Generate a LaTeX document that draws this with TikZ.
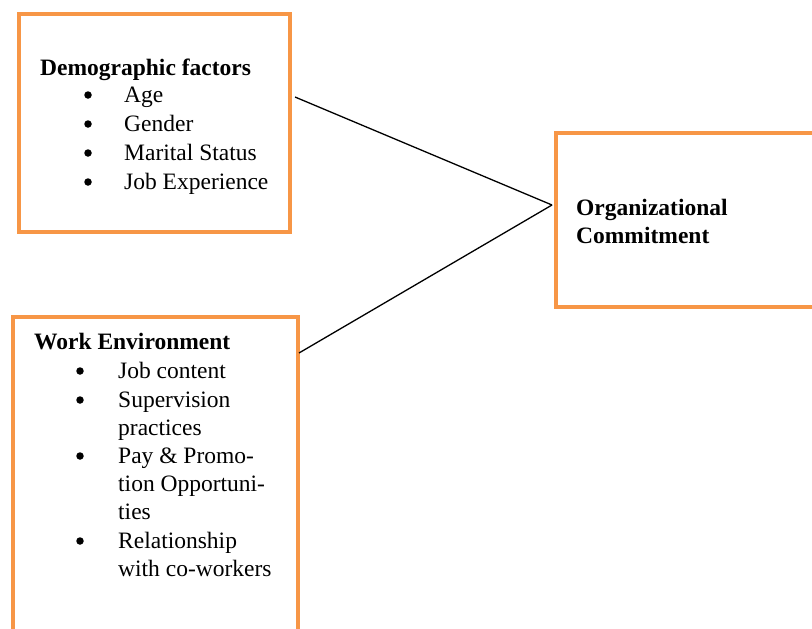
\documentclass[tikz,border=0pt]{standalone}
\usepackage{fontspec}
\setmainfont{Liberation Serif}
\definecolor{boxorange}{RGB}{247,150,70}
\tikzset{
  box/.style={draw=boxorange, line width=4pt, inner sep=0pt},
  txt/.style={anchor=base west, inner sep=0pt, font=\fontsize{23.5}{29}\selectfont},
  head/.style={txt, font=\fontsize{23.5}{29}\selectfont\bfseries},
  dot/.style={circle, fill=black, inner sep=0pt, minimum size=7.5pt}
}
\begin{document}
\begin{tikzpicture}[x=1pt,y=-1pt]
\clip (0,0) rectangle (812,629);
\fill[white] (0,0) rectangle (812,629);

% the three boxes
\node[box, minimum width=271pt, minimum height=218pt] (demo) at (154.5,123) {};
\node[box, minimum width=285pt, minimum height=340pt] (work) at (155.5,487) {};
\node[box, minimum width=300pt, minimum height=174pt] (commit) at (706,220) {};

% demographic factors
\node[head] (demotitle) at (40,75) {Demographic factors};
\node[dot] (d1) at (88,95) {};
\node[txt] (age) at (124,102) {Age};
\node[dot] (d2) at (88,124) {};
\node[txt] (gender) at (124,131) {Gender};
\node[dot] (d3) at (88,153) {};
\node[txt] (marital) at (124,160) {Marital Status};
\node[dot] (d4) at (88,182) {};
\node[txt] (jobexp) at (124,189) {Job Experience};

% work environment
\node[head] (worktitle) at (34,349) {Work Environment};
\node[dot] (w1) at (80,371) {};
\node[txt] (content) at (118,378) {Job content};
\node[dot] (w2) at (80,400) {};
\node[txt] (superv) at (118,407) {Supervision};
\node[txt] (practices) at (118,435) {practices};
\node[dot] (w3) at (80,456) {};
\node[txt] (pay) at (118,463) {Pay \& Promo-};
\node[txt] (opport) at (118,491) {tion Opportuni-};
\node[txt] (ties) at (118,519) {ties};
\node[dot] (w4) at (80,541) {};
\node[txt] (relation) at (118,548) {Relationship};
\node[txt] (cowork) at (118,576) {with co-workers};

% organizational commitment
\node[head] (orgone) at (576,215) {Organizational};
\node[head] (orgtwo) at (576,243) {Commitment};

% links into the commitment box
\coordinate (join) at (552,205);
\coordinate (demoout) at (295,97);
\coordinate (workout) at (299,353);
\draw[line width=1.3pt] (demoout) -- (join);
\draw[line width=1.3pt] (workout) -- (join);
\end{tikzpicture}
\end{document}
